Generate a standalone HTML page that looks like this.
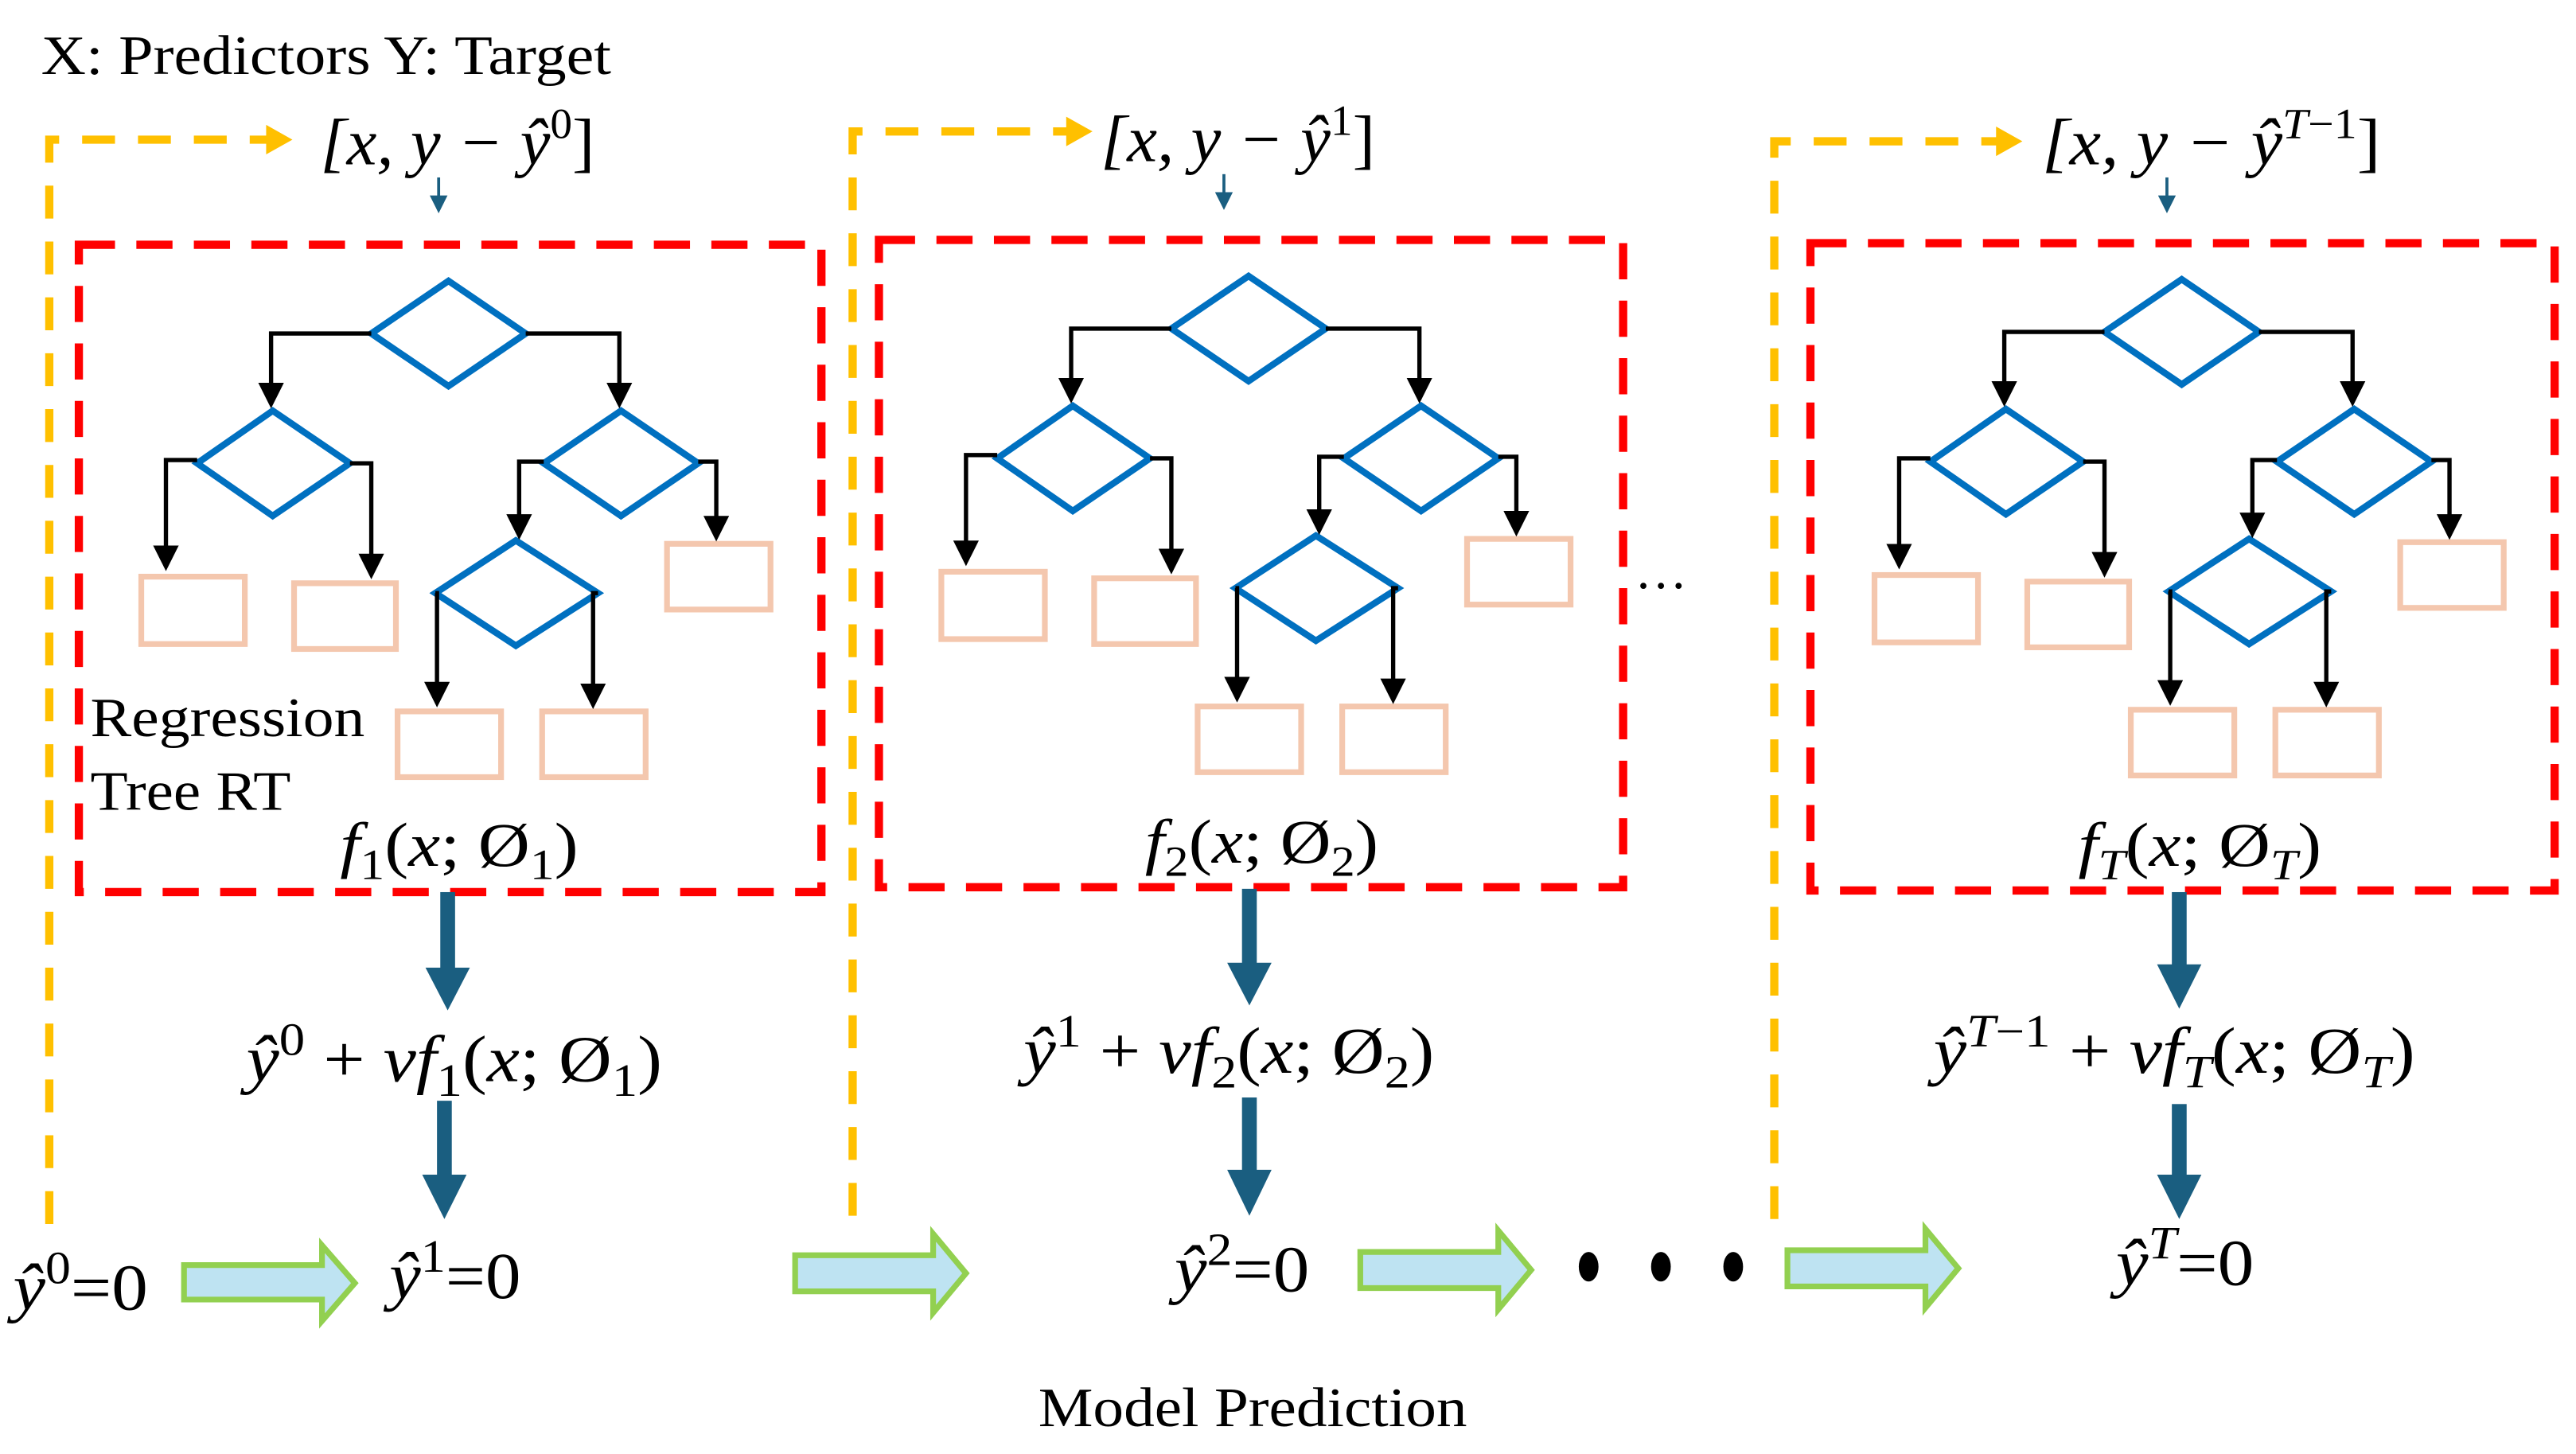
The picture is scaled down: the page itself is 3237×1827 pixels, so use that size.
<!DOCTYPE html>
<html><head><meta charset="utf-8"><style>
html,body{margin:0;padding:0;background:#fff;}
svg{display:block;}
.m{font-style:italic;}
</style></head><body>
<svg width="3237" height="1827" viewBox="0 0 1568 885" preserveAspectRatio="none" xmlns="http://www.w3.org/2000/svg" font-family="Liberation Serif, serif">
<defs>
<marker id="ah" markerWidth="6" markerHeight="6" refX="5" refY="3" orient="auto" markerUnits="strokeWidth"><path d="M0,0 L6,3 L0,6 z" fill="#000"/></marker>
<marker id="ba" markerWidth="6" markerHeight="6" refX="5" refY="3" orient="auto" markerUnits="strokeWidth"><path d="M0,0 L6,3 L0,6 z" fill="#1A5E80"/></marker>
<g id="tree">
 <g fill="none" stroke="#0070C0" stroke-width="4">
  <polygon points="226,203 273,171 320,203 273,235"/>
  <polygon points="120,282 166,250 213,282 166,314"/>
  <polygon points="331,282 378,250 425,282 378,314"/>
  <polygon points="265,361 314,329 364,361 314,393"/>
 </g>
 <g fill="none" stroke="#F4C7AE" stroke-width="3.5">
  <rect x="86" y="351" width="63" height="41"/>
  <rect x="179" y="355" width="62" height="40"/>
  <rect x="406" y="331" width="63" height="40"/>
  <rect x="242" y="433" width="63" height="40"/>
  <rect x="330" y="433" width="63" height="40"/>
 </g>
 <g fill="none" stroke="#000" stroke-width="2.6" marker-end="url(#ah)">
  <polyline points="226,203 165,203 165,246"/>
  <polyline points="320,203 377,203 377,246"/>
  <polyline points="120,280 101,280 101,345"/>
  <polyline points="213,282 226,282 226,350"/>
  <polyline points="331,281 316,281 316,326"/>
  <polyline points="425,281 436,281 436,327"/>
  <polyline points="265,361 266,361 266,428"/>
  <polyline points="364,361 361,361 361,429"/>
 </g>
</g>
</defs>

<text x="25" y="45" font-size="34" textLength="347" lengthAdjust="spacingAndGlyphs">X: Predictors Y: Target</text>

<!-- Panel 1 -->
<g fill="none" stroke="#FFC000" stroke-width="5" stroke-dasharray="20,14">
 <polyline points="30,745 30,85 165,85"/>
</g>
<path d="M162,76 L178,85 L162,94 z" fill="#FFC000"/>
<text x="195" y="100" font-size="40" class="m" textLength="167" lengthAdjust="spacingAndGlyphs">[x, y − ŷ<tspan dy="-16" font-size="26" font-style="normal">0</tspan><tspan dy="16" font-style="normal">]</tspan></text>
<line x1="267" y1="108" x2="267" y2="128" stroke="#1A5E80" stroke-width="1.8" marker-end="url(#ba)"/>
<rect x="48" y="149" width="452" height="394" fill="none" stroke="#FF0000" stroke-width="5" stroke-dasharray="22,13"/>
<use href="#tree"/>
<text x="55" y="448" font-size="34" textLength="167" lengthAdjust="spacingAndGlyphs">Regression</text>
<text x="55" y="493" font-size="34" textLength="122" lengthAdjust="spacingAndGlyphs">Tree RT</text>
<text x="207" y="527" font-size="38" class="m" textLength="145" lengthAdjust="spacingAndGlyphs">f<tspan font-size="26" dy="8" font-style="normal">1</tspan><tspan dy="-8" font-style="normal">(</tspan>x<tspan font-style="normal">; Ø</tspan><tspan font-size="26" dy="8" font-style="normal">1</tspan><tspan dy="-8" font-style="normal">)</tspan></text>
<g fill="#1A5E80">
 <rect x="268" y="543" width="9" height="48"/><path d="M259,589 L286,589 L272.5,615 z"/>
 <rect x="266" y="670" width="9" height="47"/><path d="M257,715 L284,715 L270.5,742 z"/>
</g>
<text x="150" y="658" font-size="40" class="m" textLength="253" lengthAdjust="spacingAndGlyphs">ŷ<tspan font-size="28" dy="-16" font-style="normal">0</tspan><tspan dy="16" font-style="normal"> + </tspan>vf<tspan font-size="28" dy="9" font-style="normal">1</tspan><tspan dy="-9" font-style="normal">(</tspan>x<tspan font-style="normal">; Ø</tspan><tspan font-size="28" dy="9" font-style="normal">1</tspan><tspan dy="-9" font-style="normal">)</tspan></text>
<text x="8" y="797" font-size="40" class="m" textLength="82" lengthAdjust="spacingAndGlyphs">ŷ<tspan font-size="28" dy="-16" font-style="normal">0</tspan><tspan dy="16" font-style="normal">=0</tspan></text>
<path d="M112,770 L196,770 L196,758 L216,781 L196,804 L196,791 L112,791 z" fill="#BEE3F2" stroke="#92D050" stroke-width="3.5"/>
<text x="237" y="790" font-size="40" class="m" textLength="80" lengthAdjust="spacingAndGlyphs">ŷ<tspan font-size="28" dy="-16" font-style="normal">1</tspan><tspan dy="16" font-style="normal">=0</tspan></text>

<!-- Panel 2 -->
<g fill="none" stroke="#FFC000" stroke-width="5" stroke-dasharray="20,14">
 <polyline points="519,740 519,80 652,80"/>
</g>
<path d="M649,71 L665,80 L649,89 z" fill="#FFC000"/>
<text x="670" y="98" font-size="40" class="m" textLength="167" lengthAdjust="spacingAndGlyphs">[x, y − ŷ<tspan dy="-16" font-size="26" font-style="normal">1</tspan><tspan dy="16" font-style="normal">]</tspan></text>
<line x1="745" y1="106" x2="745" y2="126" stroke="#1A5E80" stroke-width="1.8" marker-end="url(#ba)"/>
<rect x="535" y="146" width="453" height="394" fill="none" stroke="#FF0000" stroke-width="5" stroke-dasharray="22,13"/>
<use href="#tree" transform="translate(487,-3)"/>
<text x="697" y="525" font-size="38" class="m" textLength="142" lengthAdjust="spacingAndGlyphs">f<tspan font-size="26" dy="8" font-style="normal">2</tspan><tspan dy="-8" font-style="normal">(</tspan>x<tspan font-style="normal">; Ø</tspan><tspan font-size="26" dy="8" font-style="normal">2</tspan><tspan dy="-8" font-style="normal">)</tspan></text>
<g fill="#1A5E80">
 <rect x="756" y="541" width="9" height="47"/><path d="M747,586 L774,586 L760.5,612 z"/>
 <rect x="756" y="668" width="9" height="46"/><path d="M747,712 L774,712 L760.5,740 z"/>
</g>
<text x="623" y="653" font-size="40" class="m" textLength="250" lengthAdjust="spacingAndGlyphs">ŷ<tspan font-size="28" dy="-16" font-style="normal">1</tspan><tspan dy="16" font-style="normal"> + </tspan>vf<tspan font-size="28" dy="9" font-style="normal">2</tspan><tspan dy="-9" font-style="normal">(</tspan>x<tspan font-style="normal">; Ø</tspan><tspan font-size="28" dy="9" font-style="normal">2</tspan><tspan dy="-9" font-style="normal">)</tspan></text>
<path d="M484,764 L568,764 L568,751 L588,775 L568,799 L568,786 L484,786 z" fill="#BEE3F2" stroke="#92D050" stroke-width="3.5"/>
<text x="715" y="786" font-size="40" class="m" textLength="82" lengthAdjust="spacingAndGlyphs">ŷ<tspan font-size="28" dy="-16" font-style="normal">2</tspan><tspan dy="16" font-style="normal">=0</tspan></text>
<path d="M828,762 L912,762 L912,749 L932,773 L912,797 L912,784 L828,784 z" fill="#BEE3F2" stroke="#92D050" stroke-width="3.5"/>
<g fill="#000"><ellipse cx="967" cy="771" rx="6" ry="9"/><ellipse cx="1011" cy="771" rx="6" ry="9"/><ellipse cx="1055" cy="771" rx="6" ry="9"/></g>
<text x="995" y="358" font-size="32">…</text>

<!-- Panel 3 -->
<g fill="none" stroke="#FFC000" stroke-width="5" stroke-dasharray="20,14">
 <polyline points="1080,742 1080,86 1218,86"/>
</g>
<path d="M1215,77 L1231,86 L1215,95 z" fill="#FFC000"/>
<text x="1243" y="100" font-size="40" class="m" textLength="206" lengthAdjust="spacingAndGlyphs">[x, y − ŷ<tspan dy="-16" font-size="26">T</tspan><tspan font-size="26" font-style="normal">−1</tspan><tspan dy="16" font-style="normal">]</tspan></text>
<line x1="1319" y1="108" x2="1319" y2="128" stroke="#1A5E80" stroke-width="1.8" marker-end="url(#ba)"/>
<rect x="1102" y="148" width="453" height="394" fill="none" stroke="#FF0000" stroke-width="5" stroke-dasharray="22,13"/>
<use href="#tree" transform="translate(1055,-1)"/>
<text x="1265" y="527" font-size="38" class="m" textLength="148" lengthAdjust="spacingAndGlyphs">f<tspan font-size="26" dy="8">T</tspan><tspan dy="-8" font-style="normal">(</tspan>x<tspan font-style="normal">; Ø</tspan><tspan font-size="26" dy="8">T</tspan><tspan dy="-8" font-style="normal">)</tspan></text>
<g fill="#1A5E80">
 <rect x="1322" y="543" width="9" height="46"/><path d="M1313,587 L1340,587 L1326.5,614 z"/>
 <rect x="1322" y="672" width="9" height="45"/><path d="M1313,715 L1340,715 L1326.5,742 z"/>
</g>
<text x="1177" y="653" font-size="40" class="m" textLength="293" lengthAdjust="spacingAndGlyphs">ŷ<tspan font-size="28" dy="-16">T</tspan><tspan font-size="28" font-style="normal">−1</tspan><tspan dy="16" font-style="normal"> + </tspan>vf<tspan font-size="28" dy="9">T</tspan><tspan dy="-9" font-style="normal">(</tspan>x<tspan font-style="normal">; Ø</tspan><tspan font-size="28" dy="9">T</tspan><tspan dy="-9" font-style="normal">)</tspan></text>
<path d="M1088,761 L1172,761 L1172,748 L1192,772 L1172,796 L1172,783 L1088,783 z" fill="#BEE3F2" stroke="#92D050" stroke-width="3.5"/>
<text x="1288" y="782" font-size="40" class="m" textLength="84" lengthAdjust="spacingAndGlyphs">ŷ<tspan font-size="28" dy="-16">T</tspan><tspan dy="16" font-style="normal">=0</tspan></text>

<text x="632" y="868" font-size="34" textLength="261" lengthAdjust="spacingAndGlyphs">Model Prediction</text>
</svg>
</body></html>
